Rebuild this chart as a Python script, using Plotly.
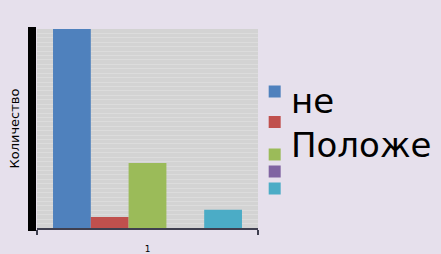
import plotly.graph_objects as go

categories = ["1"]
series_names = ["Затрудняюсь ответить", "Отрицательно", "Нейтрально", "Другое", "Положительно"]
series_values = [45, 2.5, 14.7, 0, 4.1]
series_colors = ["#4F81BD", "#C0504D", "#9BBB59", "#8064A2", "#4BACC6"]
legend_centers = [0.686, 0.533, 0.369, 0.284, 0.198]
legend_text = "не<br>Положе"
y_title = "Количество"

fig = go.Figure()
legend_ids = ["legend", "legend2", "legend3", "legend4", "legend5"]
for name, val, col, lid in zip(series_names, series_values, series_colors, legend_ids):
    fig.add_bar(x=categories, y=[val], name=" ", marker_color=col,
                marker_line_width=0, legend=lid, hovertext=name)

legend_layout = {}
for lid, yc in zip(legend_ids, legend_centers):
    legend_layout[lid] = dict(x=0.985, y=yc, xanchor="left", yanchor="middle",
                              font=dict(size=10), bgcolor="rgba(0,0,0,0)",
                              itemwidth=30)

fig.update_layout(
    width=441, height=254,
    margin=dict(l=37, r=183, t=29, b=26),
    paper_bgcolor="#E6E0EC", plot_bgcolor="#D3D3D3",
    barmode="group", bargap=0.145, bargroupgap=0,
    showlegend=True,
    font=dict(family="DejaVu Sans", color="black"),
    xaxis=dict(type="category", tickson="boundaries", ticks="outside", ticklen=5,
               tickcolor="#3F3F4F", tickwidth=2, showline=True, linecolor="#3F3F4F",
               linewidth=2, showgrid=False, tickfont=dict(size=9),
               ticklabelstandoff=11, automargin=False),
    yaxis=dict(range=[0, 45], dtick=1, ticks="outside", ticklen=8, tickwidth=4.8,
               tickcolor="black", showticklabels=False, showgrid=True,
               gridcolor="#DCDCDC", gridwidth=1, zeroline=False, showline=False,
               automargin=False),
    **legend_layout,
)

fig.add_annotation(text=legend_text, xref="paper", yref="paper", x=1.1425, y=0.53,
                   xanchor="left", yanchor="middle", align="left", showarrow=False,
                   font=dict(size=34, color="black"))
fig.add_annotation(text=y_title, xref="paper", yref="paper", x=-0.104, y=0.5,
                   xanchor="center", yanchor="middle", textangle=-90, showarrow=False,
                   font=dict(size=13, color="black"))

fig.write_html("out.html", config={"displayModeBar": False},
               post_script="document.body.style.margin='0';")
